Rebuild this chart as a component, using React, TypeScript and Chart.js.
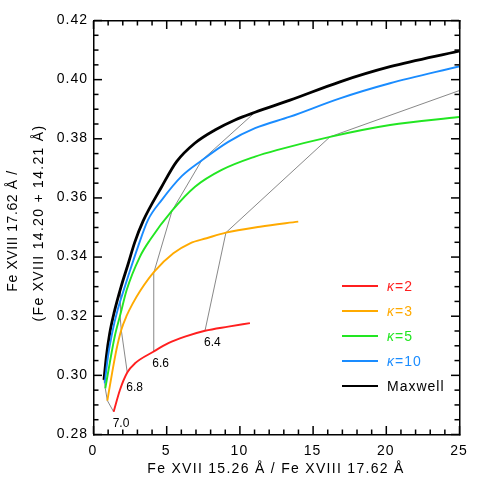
import React, { useEffect, useRef } from "react";
import { Chart, registerables } from "chart.js";

Chart.register(...registerables);

// ---- data ----
const kappa2X = [1.41, 1.84, 2.34, 2.87, 4.12, 5.15, 6.28, 7.65, 9.24, 10.72];
const kappa2Y = [0.2875, 0.2949, 0.3008, 0.3039, 0.3078, 0.3107, 0.3129, 0.3149, 0.3163, 0.3175];

const kappa3X = [0.98, 1.3, 1.6, 1.93, 2.3, 2.7, 3.26, 4.2, 5.49, 6.63, 7.76, 9.08, 11.41, 14.02];
const kappa3Y = [0.2913, 0.3005, 0.3085, 0.3152, 0.32, 0.324, 0.3287, 0.335, 0.3411, 0.3445, 0.3462, 0.3481, 0.3501, 0.3518];

const kappa5X = [0.84, 1.14, 1.48, 1.89, 2.3, 3.21, 3.89, 5.4, 6.97, 8.79, 11.07, 12.55, 16.19, 20.29, 25];
const kappa5Y = [0.2954, 0.3039, 0.3129, 0.3208, 0.3287, 0.34, 0.3456, 0.3555, 0.3636, 0.3693, 0.3738, 0.376, 0.3805, 0.3845, 0.3872];

const kappa10X = [0.8, 1.02, 1.3, 1.68, 2.12, 2.39, 3.07, 3.76, 4.69, 6.06, 7.42, 9.24, 11.07, 13.46, 16.87, 20.29, 25];
const kappa10Y = [0.2971, 0.3061, 0.314, 0.3219, 0.329, 0.3332, 0.3433, 0.3524, 0.3591, 0.3672, 0.3725, 0.3788, 0.3834, 0.3873, 0.3935, 0.3986, 0.4043];

const maxwellX = [0.75, 0.91, 1.14, 1.45, 1.93, 2.4, 2.85, 3.42, 4.69, 5.71, 6.97, 8.33, 9.7, 11.07, 13.46, 16.87, 20.29, 25];
const maxwellY = [0.2983, 0.3061, 0.314, 0.3212, 0.33, 0.3375, 0.3448, 0.352, 0.3636, 0.3721, 0.3784, 0.3828, 0.3862, 0.3888, 0.3929, 0.3991, 0.4042, 0.4095];

// isotherms (log T), connecting equal-temperature points of each curve
const iso70X = [0.75, 0.8, 0.84, 0.98, 1.41];
const iso70Y = [0.2983, 0.2971, 0.2954, 0.2913, 0.2875];
const iso68X = [2.34, 1.93, 1.85, 1.85, 1.9];
const iso68Y = [0.3008, 0.3152, 0.32, 0.3246, 0.3295];
const iso66X = [4.12, 4.15, 5.4, 7.42, 11.07];
const iso66Y = [0.3078, 0.3345, 0.3555, 0.3725, 0.3888];
const iso64X = [7.65, 9.08, 16.19, 25];
const iso64Y = [0.3149, 0.3481, 0.3805, 0.3961];

const isoLabels = ["7.0", "6.8", "6.6", "6.4"];
const legendLabels = ["κ=2", "κ=3", "κ=5", "κ=10", "Maxwell"];

const X_MIN = 0;
const X_MAX = 25;
const X_MAJOR = 5;
const Y_MIN = 0.28;
const Y_MAX = 0.42;
const Y_MAJOR = 0.02;
const xMinorTicks = [0, 1, 2, 3, 4, 5, 6, 7, 8, 9, 10, 11, 12, 13, 14, 15, 16, 17, 18, 19, 20, 21, 22, 23, 24, 25];
const yMinorTicks = [0.28, 0.285, 0.29, 0.295, 0.3, 0.305, 0.31, 0.315, 0.32, 0.325, 0.33, 0.335, 0.34, 0.345, 0.35, 0.355, 0.36, 0.365, 0.37, 0.375, 0.38, 0.385, 0.39, 0.395, 0.4, 0.405, 0.41, 0.415, 0.42];

const xTitle = "Fe XVII 15.26 Å / Fe XVIII 17.62 Å";
const yTitle1 = "Fe XVIII 17.62 Å /";
const yTitle2 = "(Fe XVIII 14.20 + 14.21 Å)";

const FONT = "'Liberation Sans', Arial, Helvetica, sans-serif";

export default function App() {
  const ref = useRef<HTMLCanvasElement>(null);

  useEffect(() => {
    const canvas = ref.current;
    if (!canvas) return;
    const toPts = (xs: number[], ys: number[]) => xs.map((x, i) => ({ x, y: ys[i] }));

    const colors = ["#ff1f1f", "#ffaa00", "#22e622", "#1a8cff", "#000000"];
    const curves = [
      [kappa2X, kappa2Y],
      [kappa3X, kappa3Y],
      [kappa5X, kappa5Y],
      [kappa10X, kappa10Y],
      [maxwellX, maxwellY],
    ];
    const isos = [
      [iso70X, iso70Y],
      [iso68X, iso68Y],
      [iso66X, iso66Y],
      [iso64X, iso64Y],
    ];

    const datasets: any[] = [];
    curves.forEach((c, i) => {
      datasets.push({
        label: legendLabels[i],
        data: toPts(c[0], c[1]),
        borderColor: colors[i],
        backgroundColor: colors[i],
        borderWidth: i === 4 ? 2.8 : 1.9,
        pointRadius: 0,
        showLine: true,
        cubicInterpolationMode: "monotone",
        fill: false,
      });
    });
    isos.forEach((c, i) => {
      datasets.push({
        label: "T" + isoLabels[i],
        data: toPts(c[0], c[1]),
        borderColor: "#7a7a7a",
        borderWidth: 0.9,
        pointRadius: 0,
        showLine: true,
        tension: 0,
        fill: false,
      });
    });

    const decor = {
      id: "decor",
      beforeDraw(chart: any) {
        chart.ctx.letterSpacing = "1px";
      },
      afterDraw(chart: any) {
        const ctx = chart.ctx as CanvasRenderingContext2D;
        const a = chart.chartArea;
        const sx = chart.scales["x"];
        const sy = chart.scales["y"];
        const L = Math.round(a.left), R = Math.round(a.right), T = Math.round(a.top), B = Math.round(a.bottom);
        ctx.save();
        ctx.letterSpacing = "0px";
        ctx.fillStyle = "#000000";
        // frame
        ctx.fillRect(L, T, R - L + 1.5, 1.5);
        ctx.fillRect(L, B, R - L + 1.5, 1.5);
        ctx.fillRect(L, T, 1.5, B - T + 1.5);
        ctx.fillRect(R, T, 1.5, B - T + 1.5);
        // ticks (inside, all four sides)
        const w = 1.5;
        xMinorTicks.forEach((v) => {
          const px = sx.getPixelForValue(v) - w / 2 + 0.5;
          const major = Math.abs(v / X_MAJOR - Math.round(v / X_MAJOR)) < 1e-6;
          const len = major ? 8 : 4.5;
          ctx.fillRect(px, B - len, w, len);
          ctx.fillRect(px, T + 1, w, len);
        });
        yMinorTicks.forEach((v) => {
          const py = sy.getPixelForValue(v) - w / 2 + 0.5;
          const major = Math.abs(v / Y_MAJOR - Math.round(v / Y_MAJOR)) < 1e-6;
          const len = major ? 8 : 4.5;
          ctx.fillRect(L + 1, py, len, w);
          ctx.fillRect(R - len, py, len, w);
        });

        // isotherm labels next to the kappa=2 points
        ctx.fillStyle = "#000";
        ctx.font = "12px " + FONT;
        ctx.textAlign = "left";
        ctx.textBaseline = "middle";
        isos.forEach((c, i) => {
          const idx = i === 0 ? c[0].length - 1 : 0;
          const px = sx.getPixelForValue(c[0][idx]);
          const py = sy.getPixelForValue(c[1][idx]);
          const dy = i === 1 ? 15.5 : 12;
          ctx.fillText(isoLabels[i], px - 1, py + dy);
        });

        // legend
        const lx0 = a.right - 117, lx1 = a.right - 81, tx = a.right - 72;
        legendLabels.forEach((lab, i) => {
          const yy = a.top + 266 + i * 25;
          ctx.strokeStyle = colors[i];
          ctx.lineWidth = 1.8;
          ctx.beginPath();
          ctx.moveTo(lx0, yy);
          ctx.lineTo(lx1, yy);
          ctx.stroke();
          ctx.fillStyle = colors[i];
          ctx.textBaseline = "middle";
          ctx.letterSpacing = "1px";
          if (lab.startsWith("κ")) {
            ctx.font = "italic 14px " + FONT;
            ctx.fillText("κ", tx, yy + 1);
            const kw = ctx.measureText("κ").width;
            ctx.font = "14px " + FONT;
            ctx.fillText(lab.slice(1), tx + kw, yy + 1);
          } else {
            ctx.font = "14px " + FONT;
            ctx.fillText(lab, tx, yy + 1);
          }
        });

        // axis titles
        ctx.fillStyle = "#000";
        ctx.font = "14px " + FONT;
        ctx.letterSpacing = "1.3px";
        ctx.textAlign = "center";
        ctx.textBaseline = "alphabetic";
        ctx.fillText(xTitle, (a.left + a.right) / 2, 473);
        ctx.save();
        ctx.letterSpacing = "0.6px";
        ctx.translate(17, 231);
        ctx.rotate(-Math.PI / 2);
        ctx.fillText(yTitle1, 0, 0);
        ctx.restore();
        ctx.save();
        ctx.letterSpacing = "1.3px";
        ctx.translate(43, 223);
        ctx.rotate(-Math.PI / 2);
        ctx.fillText(yTitle2, 0, 0);
        ctx.restore();
        ctx.restore();
      },
    };

    const chart = new Chart(canvas, {
      type: "scatter",
      data: { datasets },
      plugins: [decor],
      options: {
        animation: false,
        responsive: true,
        maintainAspectRatio: false,
        layout: { padding: { left: 0, right: 21, top: 20, bottom: 0 } },
        plugins: { legend: { display: false }, tooltip: { enabled: false } },
        scales: {
          x: {
            type: "linear",
            min: X_MIN,
            max: X_MAX,
            grid: { display: false, drawTicks: false },
            border: { display: false },
            ticks: {
              stepSize: X_MAJOR,
              padding: 9,
              color: "#000",
              font: { size: 14, family: FONT },
              maxRotation: 0,
              callback: (v: any) => String(v),
            },
            afterFit: (s: any) => {
              s.height = 46;
            },
          },
          y: {
            type: "linear",
            min: Y_MIN,
            max: Y_MAX,
            grid: { display: false, drawTicks: false },
            border: { display: false },
            ticks: {
              stepSize: Y_MAJOR,
              padding: 5,
              color: "#000",
              font: { size: 14, family: FONT },
              callback: (v: any) => Number(v).toFixed(2),
            },
            afterFit: (s: any) => {
              s.width = 93;
            },
          },
        },
      } as any,
    });
    return () => chart.destroy();
  }, []);

  return (
    <div style={{ position: "absolute", left: 0, top: 0, width: 480, height: 480, background: "#fff" }}>
      <canvas ref={ref} />
    </div>
  );
}
